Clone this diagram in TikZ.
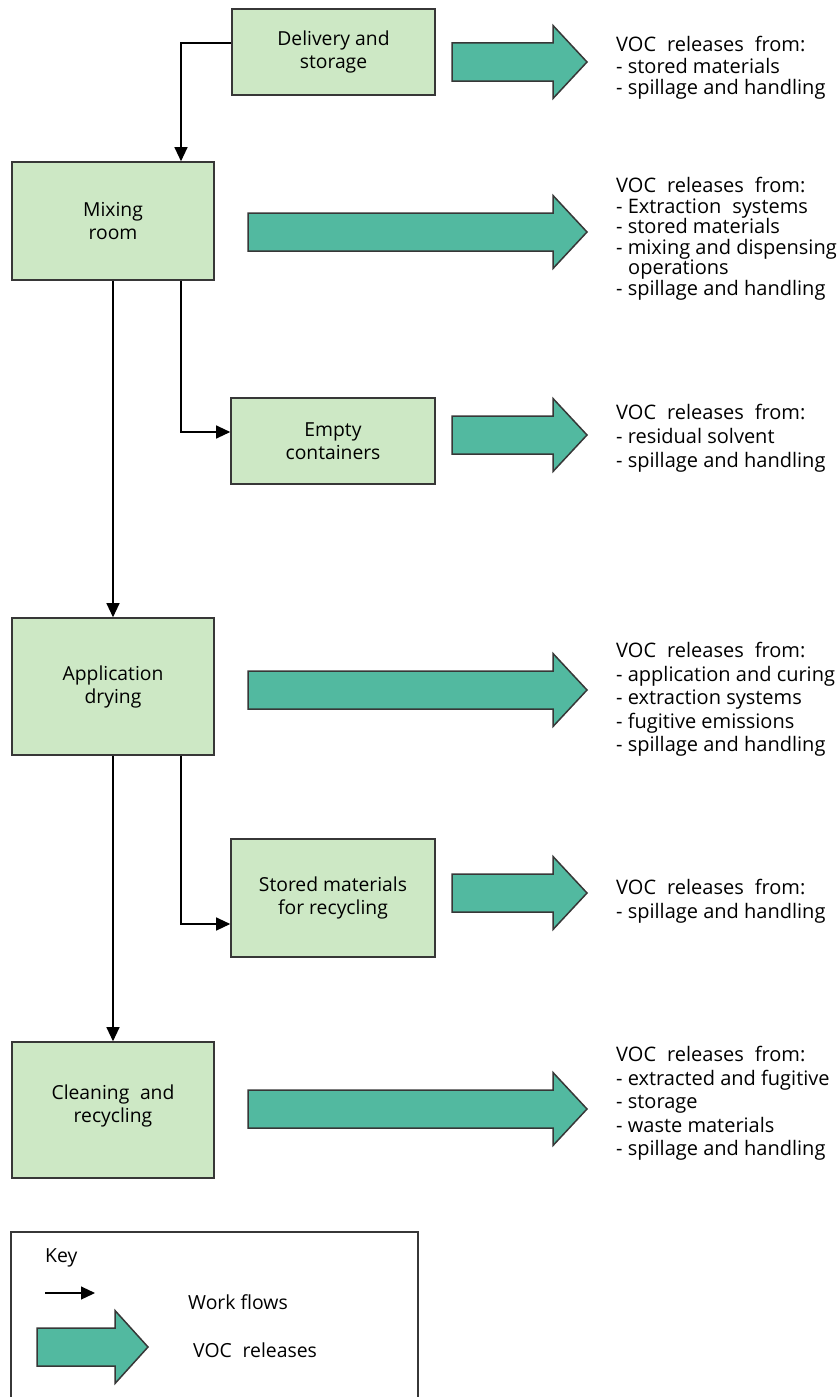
\documentclass[tikz,border=0pt]{standalone}
\usepackage{fontspec}
\setmainfont{Open Sans}
\usetikzlibrary{arrows.meta}
\definecolor{boxgreen}{RGB}{205,232,197}
\definecolor{voc}{RGB}{82,185,160}
\definecolor{edge}{RGB}{55,55,55}
\newcommand\vocarr[4]{% start x, head base x, tip x, centre y
  \draw[vocarrow] (#1,#4-19) -- (#2,#4-19) -- (#2,#4-36.5) -- (#3,#4) -- (#2,#4+36.5) -- (#2,#4+19) -- (#1,#4+19) -- cycle;}
\newcommand\wsp{\hspace{0.55em}}
\tikzset{
  proc/.style={draw=edge, line width=1.6pt, fill=boxgreen, align=center,
    font=\fontsize{19.3}{23}\selectfont, inner sep=0pt},
  flow/.style={draw=black, line width=1.2pt, -{Triangle[length=14pt,width=13pt]}},
  vocarrow/.style={draw=edge, line width=1.5pt, fill=voc, line join=miter},
  voctext/.style={anchor=north west, align=left, inner sep=0pt},
  keytext/.style={anchor=base west, font=\fontsize{19.4}{22}\selectfont, inner sep=0pt},
}
\begin{document}
\begin{tikzpicture}[x=1pt,y=-1pt]
\useasboundingbox (0,0) rectangle (840,1397);
% process boxes
\node[proc, minimum width=203pt, minimum height=86pt]  (deliv)  at (333.5,52)  {Delivery and\\storage};
\node[proc, minimum width=202pt, minimum height=118pt] (mix)    at (113,221)   {Mixing\\room};
\node[proc, minimum width=204pt, minimum height=86pt]  (empty)  at (333,441)   {Empty\\containers};
\node[proc, minimum width=202pt, minimum height=137pt] (app)    at (113,686.5) {Application\\drying};
\node[proc, minimum width=204pt, minimum height=118pt] (stored) at (333,898)   {Stored materials\\for recycling};
\node[proc, minimum width=202pt, minimum height=136pt] (clean)  at (113,1110)  {Cleaning\wsp and\\recycling\rule[-13pt]{0pt}{0pt}};
% work flows
\draw[flow] (deliv.west |- 0,43) -| (mix.north -| 181,0);
\draw[flow] (mix.south) -- (app.north);
\draw[flow] (mix.south -| 181,0) |- (empty.west |- 0,432);
\draw[flow] (app.south) -- (clean.north);
\draw[flow] (app.south -| 181,0) |- (stored.west |- 0,924);
% VOC release arrows
\vocarr{452}{553}{587}{62}
\vocarr{248}{553}{587}{232}
\vocarr{452}{553}{587}{435}
\vocarr{248}{553}{587}{690}
\vocarr{452}{553}{587}{893}
\vocarr{248}{553}{587}{1109}
% VOC texts
\node[voctext, font=\fontsize{20}{21.5}\selectfont] (t1) at (616,36) {VOC\wsp releases\wsp from:\\- stored materials\\- spillage and handling};
\node[voctext, font=\fontsize{20}{20.5}\selectfont] (t2) at (616,177) {VOC\wsp releases\wsp from:\\- Extraction\wsp systems\\- stored materials\\- mixing and dispensing\\\hspace*{0.6em}operations\\- spillage and handling};
\node[voctext, font=\fontsize{20}{24}\selectfont] (t3) at (616,404) {VOC\wsp releases\wsp from:\\- residual solvent\\- spillage and handling};
\node[voctext, font=\fontsize{20}{23.5}\selectfont] (t4) at (616,642) {VOC\wsp releases\wsp from:\\- application and curing\\- extraction systems\\- fugitive emissions\\- spillage and handling};
\node[voctext, font=\fontsize{20}{24}\selectfont] (t5) at (616,879) {VOC\wsp releases\wsp from:\\- spillage and handling};
\node[voctext, font=\fontsize{20}{23.5}\selectfont] (t6) at (616,1046) {VOC\wsp releases\wsp from:\\- extracted and fugitive\\- storage\\- waste materials\\- spillage and handling};
% key
\node[draw=edge, line width=1.5pt, minimum width=407pt, minimum height=220pt, anchor=north west, inner sep=0pt] (key) at (10,1231) {};
\node[keytext] (keylbl) at (45,1262) {Key};
\coordinate (kf1) at (45,1293);
\coordinate (kf2) at (95,1293);
\draw[flow] (kf1) -- (kf2);
\node[keytext] (kwork) at (188,1309) {Work flows};
\vocarr{37}{115}{148}{1347}
\node[keytext] (kvoc) at (193,1357) {VOC\wsp releases};
\end{tikzpicture}
\end{document}
